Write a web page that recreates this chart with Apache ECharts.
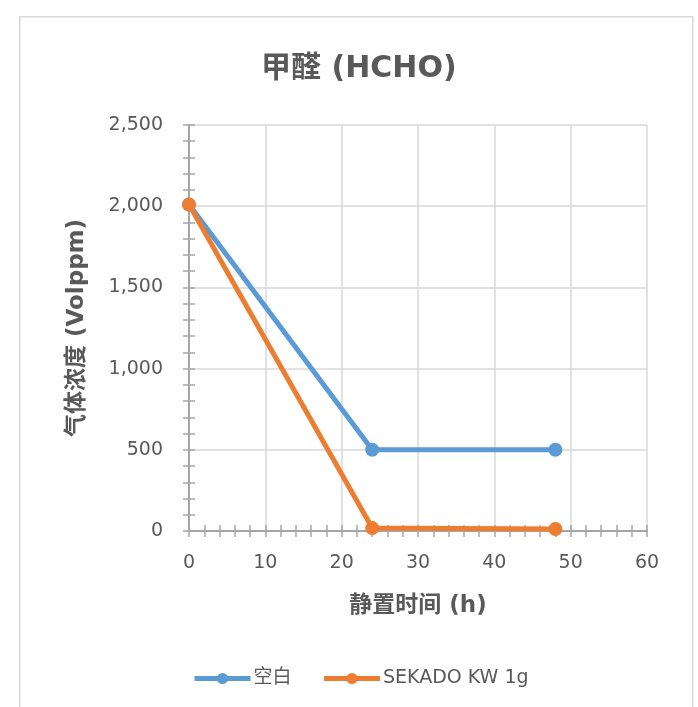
<!DOCTYPE html>
<html>
<head>
<meta charset="utf-8">
<script src="https://cdn.jsdelivr.net/npm/echarts@6/dist/echarts.min.js"></script>
<style>
  html, body { margin: 0; padding: 0; background: #ffffff; }
  #chart { width: 698px; height: 707px; }
</style>
</head>
<body>
<div id="chart"></div>
<script>
// Formaldehyde concentration over standing time
const hours = [0, 24, 48];
const blankValues = [2010, 500, 500];
const sekadoValues = [2010, 18, 12];
const seriesNames = ['空白', 'SEKADO KW 1g'];
const xTicks = { min: 0, max: 60, interval: 10 };
const yTicks = { min: 0, max: 2500, interval: 500 };

const FONT = "'DejaVu Sans', 'Noto Sans CJK SC', sans-serif";
const TEXT = '#595959';
const AXIS = '#a6a6a6';
const GRID = '#d9d9d9';
const BLUE = '#5b9bd5';
const ORANGE = '#ed7d31';

const chart = echarts.init(document.getElementById('chart'), null, { renderer: 'canvas' });

function pairs(xs, ys) { return xs.map((x, i) => [x, ys[i]]); }

const tickStyle = { color: AXIS, width: 1.5 };

// Primary axes carry labels, names, grid lines and outward ticks;
// the overlay axes add the inward half so ticks cross the axis line.
const xPrimary = {
  type: 'value', min: xTicks.min, max: xTicks.max, interval: xTicks.interval,
  position: 'bottom',
  name: '静置时间 (h)', nameLocation: 'middle', nameGap: 64,
  nameTextStyle: { fontFamily: FONT, fontSize: 23, fontWeight: 'bold', color: TEXT },
  axisLine: { show: true, onZero: false, lineStyle: { color: AXIS, width: 2 } },
  axisTick: { show: true, inside: false, length: 6, lineStyle: tickStyle },
  minorTick: { show: true, splitNumber: 5, length: 6, lineStyle: tickStyle },
  axisLabel: { fontFamily: FONT, fontSize: 19, color: TEXT, margin: 23 },
  splitLine: { show: true, lineStyle: { color: GRID, width: 1.5 } }
};
const xOverlay = {
  type: 'value', min: xTicks.min, max: xTicks.max, interval: xTicks.interval,
  position: 'bottom',
  axisLine: { show: false, onZero: false },
  axisTick: { show: true, inside: true, length: 6, lineStyle: tickStyle },
  minorTick: { show: true, splitNumber: 5, length: 6, lineStyle: tickStyle },
  axisLabel: { show: false },
  splitLine: { show: false }
};
const yPrimary = {
  type: 'value', min: yTicks.min, max: yTicks.max, interval: yTicks.interval,
  position: 'left',
  name: '气体浓度 (Volppm)', nameLocation: 'middle', nameGap: 100,
  nameTextStyle: { fontFamily: FONT, fontSize: 23, fontWeight: 'bold', color: TEXT },
  axisLine: { show: true, onZero: false, lineStyle: { color: AXIS, width: 2 } },
  axisTick: { show: true, inside: false, length: 6, lineStyle: tickStyle },
  minorTick: { show: true, splitNumber: 5, length: 6, lineStyle: tickStyle },
  axisLabel: {
    fontFamily: FONT, fontSize: 19, color: TEXT, margin: 26,
    formatter: v => v.toLocaleString('en-US')
  },
  splitLine: { show: true, lineStyle: { color: GRID, width: 1.5 } }
};
const yOverlay = {
  type: 'value', min: yTicks.min, max: yTicks.max, interval: yTicks.interval,
  position: 'left',
  axisLine: { show: false, onZero: false },
  axisTick: { show: true, inside: true, length: 6, lineStyle: tickStyle },
  minorTick: { show: true, splitNumber: 5, length: 6, lineStyle: tickStyle },
  axisLabel: { show: false },
  splitLine: { show: false }
};

function lineSeries(name, values, color) {
  return {
    name: name, type: 'line',
    xAxisIndex: 0, yAxisIndex: 0,
    data: pairs(hours, values),
    symbol: 'circle', symbolSize: 14,
    lineStyle: { color: color, width: 5 },
    itemStyle: { color: color },
    emphasis: { disabled: true },
    z: 3
  };
}

chart.setOption({
  animation: false,
  backgroundColor: '#ffffff',
  graphic: [{
    type: 'rect', left: 19, top: 16, z: -10,
    shape: { width: 673, height: 700 },
    style: { fill: '#ffffff', stroke: GRID, lineWidth: 1.5 }
  }],
  title: {
    text: '甲醛 (HCHO)', left: 256, top: 49,
    textStyle: { fontFamily: FONT, fontSize: 30, fontWeight: 'bold', color: TEXT }
  },
  legend: {
    bottom: 14, left: 187, itemGap: 30, itemWidth: 56, itemHeight: 14,
    lineStyle: { width: 5 },
    textStyle: { fontFamily: FONT, fontSize: 19, color: TEXT, padding: [0, 0, 0, -2] },
    data: seriesNames
  },
  grid: { left: 189, right: 51, top: 125, bottom: 176, containLabel: false },
  xAxis: [xPrimary, xOverlay],
  yAxis: [yPrimary, yOverlay],
  series: [
    lineSeries(seriesNames[0], blankValues, BLUE),
    lineSeries(seriesNames[1], sekadoValues, ORANGE)
  ]
});
</script>
</body>
</html>
